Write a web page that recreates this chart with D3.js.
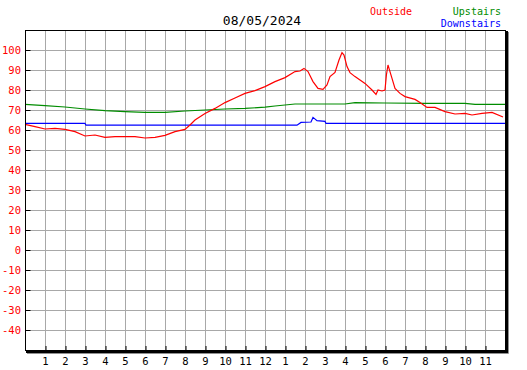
<!DOCTYPE html>
<html>
<head>
<meta charset="utf-8">
<script src="https://cdn.jsdelivr.net/npm/d3@7"></script>
<style>
  body { margin: 0; background: #fff; }
  text { font-family: "DejaVu Sans Mono", monospace; }
</style>
</head>
<body>
<svg id="chart" width="527" height="370"></svg>
<script>
// hour of day (0-24) and temperature readings
var outsideHours = [0, 0.5, 1, 1.5, 2, 2.5, 3, 3.5, 4, 4.5, 5, 5.5, 6, 6.5, 7, 7.5, 8, 8.25, 8.5, 9, 9.5, 10, 10.5, 11, 11.5, 12, 12.5, 13, 13.5, 13.75, 13.95, 14.15, 14.4, 14.65, 14.9, 15.1, 15.25, 15.5, 15.7, 15.85, 15.95, 16.1, 16.25, 16.5, 17, 17.35, 17.55, 17.65, 17.85, 18, 18.07, 18.15, 18.2, 18.35, 18.5, 18.75, 19, 19.5, 19.75, 20.1, 20.5, 21, 21.5, 22, 22.35, 22.85, 23.35, 23.9];
var outsideTemps = [62.8, 61.7, 60.5, 60.8, 60.3, 59.2, 57, 57.5, 56.3, 56.7, 56.7, 56.7, 56, 56.3, 57.3, 59.2, 60.3, 62.5, 65, 68.3, 70.8, 73.7, 76, 78.3, 79.7, 81.7, 84.2, 86.2, 89.2, 89.5, 90.8, 89.2, 84.2, 80.8, 80.3, 82.5, 86.7, 88.8, 95, 98.7, 97.5, 91.7, 88.7, 86.7, 83.3, 80, 77.8, 80, 79.5, 80, 87.5, 92.5, 90.8, 85.8, 80.8, 78.3, 76.7, 75.3, 73.7, 71.3, 71.3, 69.2, 68, 68.3, 67.5, 68.3, 68.8, 66.5];

var upstairsHours = [0, 1, 2, 3, 4, 5, 6, 7, 8, 9, 10, 11, 12, 12.5, 13, 13.5, 16, 16.5, 18, 20, 22, 22.5, 24];
var upstairsTemps = [72.8, 72.2, 71.5, 70.5, 69.7, 69.2, 68.8, 68.8, 69.5, 70, 70.5, 70.8, 71.4, 72, 72.5, 73, 73, 73.7, 73.5, 73.3, 73.3, 72.8, 72.8];

var downstairsHours = [0, 3, 3.05, 13.6, 13.8, 14.3, 14.4, 14.6, 15, 15.05, 24];
var downstairsTemps = [63.3, 63.3, 62.4, 62.4, 63.8, 64, 66.3, 64.7, 64.3, 63.3, 63.3];

var hourLabels = ["1", "2", "3", "4", "5", "6", "7", "8", "9", "10", "11", "12", "1", "2", "3", "4", "5", "6", "7", "8", "9", "10", "11"];
var tempTicks = [-40, -30, -20, -10, 0, 10, 20, 30, 40, 50, 60, 70, 80, 90, 100];

var title = "08/05/2024";

var margin = { top: 30, left: 25 },
    width = 480,
    height = 320;

var svg = d3.select('#chart');
var g = svg.append('g')
    .attr('transform', 'translate(' + margin.left + ',' + margin.top + ')');

var x = d3.scaleLinear().domain([0, 24]).range([0, width]);
var y = d3.scaleLinear().domain([-50, 110]).range([height, 0]);

// grid
g.append('g')
    .attr('class', 'grid')
    .selectAll('line.v')
    .data(d3.range(1, 24))
    .enter()
    .append('line')
    .attr('x1', d => Math.round(x(d)) + 0.5)
    .attr('x2', d => Math.round(x(d)) + 0.5)
    .attr('y1', 0)
    .attr('y2', height)
    .style('stroke', '#a8a8a8');

g.append('g')
    .attr('class', 'grid')
    .selectAll('line.h')
    .data(tempTicks)
    .enter()
    .append('line')
    .attr('x1', 0)
    .attr('x2', width)
    .attr('y1', d => Math.round(y(d)) + 0.5)
    .attr('y2', d => Math.round(y(d)) + 0.5)
    .style('stroke', '#a8a8a8');

// y axis ticks (inside) + red labels
var yAxis = d3.axisRight(y)
    .tickValues(tempTicks)
    .tickSize(5)
    .tickFormat('');
g.append('g')
    .attr('transform', 'translate(0.5,0)')
    .call(yAxis)
    .call(a => a.select('.domain').remove())
    .selectAll('line').attr('stroke', '#000');

g.selectAll('.ylab')
    .data(tempTicks)
    .enter()
    .append('text')
    .attr('class', 'ylab')
    .attr('x', -4)
    .attr('y', d => y(d) + 4)
    .attr('text-anchor', 'end')
    .style('font-size', '10.5px')
    .style('fill', '#ff0000')
    .text(d => d);

// x axis ticks (inside) + labels
var xAxis = d3.axisTop(x)
    .tickValues(d3.range(1, 24))
    .tickSize(4)
    .tickFormat('');
g.append('g')
    .attr('transform', 'translate(0.5,' + height + ')')
    .call(xAxis)
    .call(a => a.select('.domain').remove())
    .selectAll('line').attr('stroke', '#000');

g.selectAll('.xlab')
    .data(hourLabels)
    .enter()
    .append('text')
    .attr('class', 'xlab')
    .attr('x', (d, i) => x(i + 1) + 0.5)
    .attr('y', height + 15)
    .attr('text-anchor', 'middle')
    .style('font-size', '10.5px')
    .style('fill', '#000')
    .text(d => d);

// series
var series = [
    { hours: upstairsHours, temps: upstairsTemps, color: '#008c00' },
    { hours: downstairsHours, temps: downstairsTemps, color: '#0000ff' },
    { hours: outsideHours, temps: outsideTemps, color: '#ff0000' }
];

var line = d3.line()
    .x(d => x(d[0]))
    .y(d => y(d[1]));

g.selectAll('.series')
    .data(series)
    .enter()
    .append('path')
    .attr('class', 'series')
    .attr('d', s => line(s.hours.map((h, i) => [h, s.temps[i]])))
    .style('fill', 'none')
    .style('stroke', s => s.color)
    .style('stroke-width', 1.2);

// frame with dark shadow on right/bottom
g.append('rect')
    .attr('x', 0.5)
    .attr('y', 0.5)
    .attr('width', width)
    .attr('height', height)
    .style('fill', 'none')
    .style('stroke', '#000');
g.append('path')
    .attr('d', 'M' + (width + 2) + ',1V' + (height + 2) + 'H1')
    .style('fill', 'none')
    .style('stroke', '#000')
    .style('stroke-width', 2);
g.append('path')
    .attr('d', 'M' + (width + 3.5) + ',2V' + (height + 3.5) + 'H2')
    .style('fill', 'none')
    .style('stroke', '#909090')
    .style('stroke-width', 1);

// title + legend
svg.append('text')
    .attr('x', 262)
    .attr('y', 25)
    .attr('text-anchor', 'middle')
    .style('font-size', '13px')
    .style('fill', '#000')
    .text(title);

svg.append('text')
    .attr('x', 370)
    .attr('y', 15)
    .style('font-size', '10px')
    .style('fill', '#ff0000')
    .text('Outside');
svg.append('text')
    .attr('x', 501)
    .attr('y', 15)
    .attr('text-anchor', 'end')
    .style('font-size', '10px')
    .style('fill', '#008c00')
    .text('Upstairs');
svg.append('text')
    .attr('x', 501)
    .attr('y', 27)
    .attr('text-anchor', 'end')
    .style('font-size', '10px')
    .style('fill', '#0000ff')
    .text('Downstairs');
</script>
</body>
</html>
